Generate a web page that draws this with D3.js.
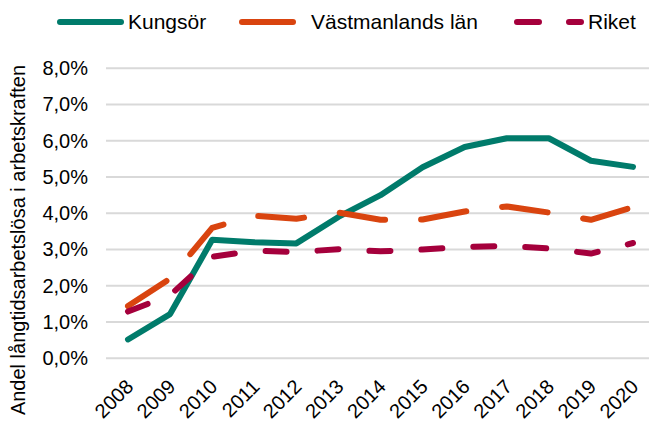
<!DOCTYPE html>
<html><head><meta charset="utf-8">
<script src="https://cdn.jsdelivr.net/npm/d3@7"></script>
<style>
html,body{margin:0;padding:0;background:#fff;}
svg{display:block;}
text{font-family:"Liberation Sans",Arial,sans-serif;fill:#000;}
</style></head>
<body>
<script>
const years = [2008,2009,2010,2011,2012,2013,2014,2015,2016,2017,2018,2019,2020];
const kungsor = [0.52,1.22,3.27,3.2,3.17,3.9,4.5,5.27,5.83,6.07,6.07,5.45,5.28];
const vastmanland = [1.44,2.2,3.6,3.93,3.85,4.02,3.82,3.83,4.05,4.19,4.02,3.82,4.17];
const riket = [1.29,1.74,2.8,2.97,2.93,3.01,2.95,3.0,3.07,3.1,3.03,2.89,3.18];
const seriesNames = ["Kungsör","Västmanlands län","Riket"];
const yTicks = [0,1,2,3,4,5,6,7,8];
const yTitle = "Andel långtidsarbetslösa i arbetskraften";

const W = 649, H = 421;
const svg = d3.select("body").append("svg").attr("width",W).attr("height",H);

const x = d3.scalePoint().domain(years).range([128,633]);
const y = d3.scaleLinear().domain([0,8]).range([358.3,68.3]);

const fmt = v => d3.format(".1f")(v).replace(".",",") + "%";

// gridlines
svg.append("g").selectAll("line").data(yTicks).join("line")
  .attr("x1",106).attr("x2",W)
  .attr("y1",d=>y(d)).attr("y2",d=>y(d))
  .attr("stroke","#d9d9d9").attr("stroke-width",2);

// y axis labels
const yAxis = d3.axisLeft(y).tickValues(yTicks).tickFormat(fmt).tickSize(0).tickPadding(0);
const gy = svg.append("g").attr("transform","translate(88,0)").call(yAxis);
gy.select(".domain").remove();
gy.selectAll("text").attr("font-size",20).attr("font-family",'"Liberation Sans",Arial,sans-serif').attr("fill","#000");

// x axis labels
const xAxis = d3.axisBottom(x).tickSize(0).tickPadding(0);
const gx = svg.append("g").attr("transform","translate(0,0)").call(xAxis);
gx.select(".domain").remove();
gx.selectAll(".tick text")
  .attr("font-size",20).attr("font-family",'"Liberation Sans",Arial,sans-serif').attr("fill","#000")
  .attr("text-anchor","end").attr("dy",null).attr("y",null)
  .attr("transform","translate(6,388) rotate(-45)");

// y title
svg.append("text").attr("transform","translate(25,240) rotate(-90)")
  .attr("text-anchor","middle").attr("font-size",20).text(yTitle);

const series = [
  {name:seriesNames[0], values:kungsor, color:"#007b6b", dash:null},
  {name:seriesNames[1], values:vastmanland, color:"#d9440f", dash:"46,36"},
  {name:seriesNames[2], values:riket, color:"#a5003c", dash:"21,31"}
];
const line = d3.line().x((d,i)=>x(years[i])).y(d=>y(d));
svg.append("g").selectAll("path").data(series).join("path")
  .attr("d",d=>line(d.values))
  .attr("fill","none").attr("stroke",d=>d.color).attr("stroke-width",6)
  .attr("stroke-linecap","round").attr("stroke-linejoin","round")
  .attr("stroke-dasharray",d=>d.dash);

// legend
const ly = 22;
const leg = svg.append("g");
leg.append("line").attr("x1",60).attr("x2",121).attr("y1",ly).attr("y2",ly)
  .attr("stroke",series[0].color).attr("stroke-width",6).attr("stroke-linecap","round");
leg.append("text").attr("x",128).attr("y",ly).attr("dy","0.35em").attr("font-size",21).text(seriesNames[0]);
leg.append("line").attr("x1",242).attr("x2",293).attr("y1",ly).attr("y2",ly)
  .attr("stroke",series[1].color).attr("stroke-width",6).attr("stroke-linecap","round");
leg.append("text").attr("x",311).attr("y",ly).attr("dy","0.35em").attr("font-size",21).text(seriesNames[1]);
leg.append("line").attr("x1",517).attr("x2",581).attr("y1",ly).attr("y2",ly)
  .attr("stroke",series[2].color).attr("stroke-width",6).attr("stroke-linecap","round")
  .attr("stroke-dasharray","22,30");
leg.append("text").attr("x",588).attr("y",ly).attr("dy","0.35em").attr("font-size",21).text(seriesNames[2]);
</script>
</body></html>
